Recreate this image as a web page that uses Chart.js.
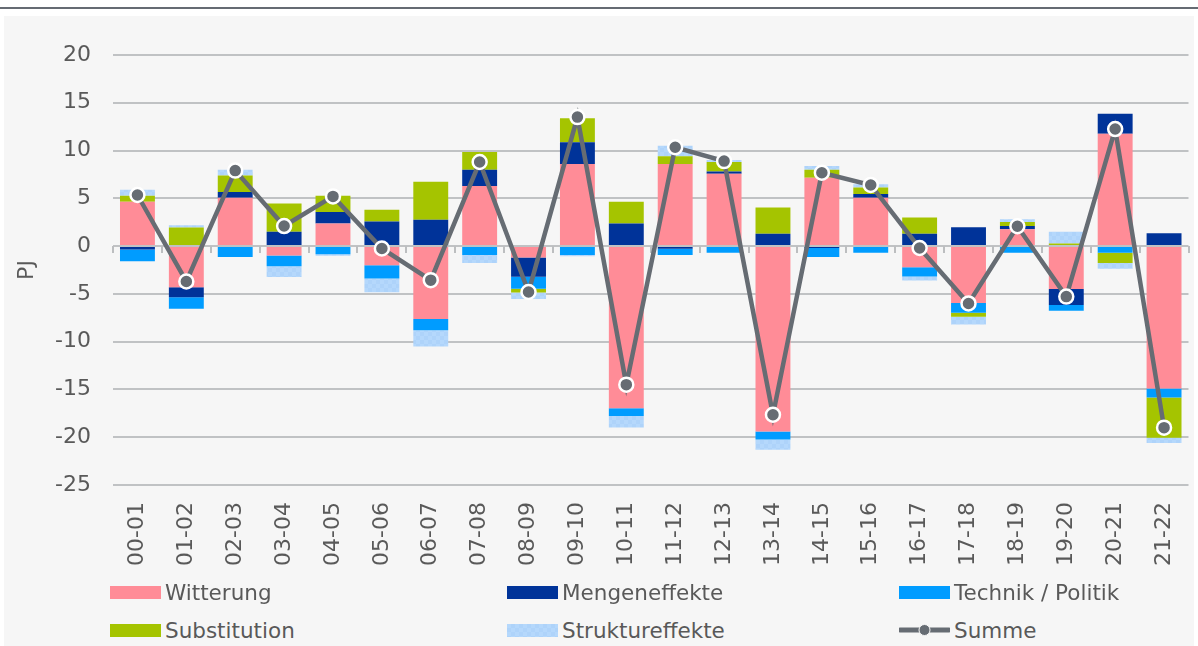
<!DOCTYPE html>
<html>
<head>
<meta charset="utf-8">
<script src="https://cdn.jsdelivr.net/npm/chart.js@4.4.1/dist/chart.umd.min.js"></script>
<style>
  body { margin: 0; background: #fff; width: 1198px; height: 646px; overflow: hidden; position: relative; font-family: "DejaVu Sans", sans-serif; }
  #topLine { position: absolute; left: 0; top: 7px; width: 1198px; height: 2px; background: #656b73; }
  #panel { position: absolute; left: 4px; top: 16px; width: 1190px; height: 630px; background: #f6f6f6; }
  #chartBox { position: absolute; left: 0; top: 0; }
  .item { position: absolute; display: flex; align-items: center; height: 30px; font-size: 21.5px; color: #595959; white-space: nowrap; }
  .sw { display: inline-block; width: 51px; height: 13px; margin-right: 4px; }
</style>
</head>
<body>
<div id="topLine"></div>
<div id="panel"></div>
<div id="chartBox"><canvas id="chart" width="1198" height="580"></canvas></div>
<div id="legend"></div>
<script>
// Zeitraeume
const labels = ["00-01","01-02","02-03","03-04","04-05","05-06","06-07","07-08","08-09","09-10","10-11",
                "11-12","12-13","13-14","14-15","15-16","16-17","17-18","18-19","19-20","20-21","21-22"];

// Komponenten in PJ
const witterung    = [4.65,-4.3,5.07,-0.99,2.36,-2.0,-7.64,6.3,-1.2,8.59,-16.97,8.59,7.57,-19.4,7.15,5.07,-2.22,-5.95,1.76,-4.5,11.76,-14.9];
const mengen       = [-0.35,-1.05,0.6,1.51,1.2,2.57,2.75,1.69,-2.0,2.29,2.36,-0.28,0.25,1.3,-0.2,0.39,1.3,1.97,0.35,-1.66,2.08,1.34];
const technik      = [-1.23,-1.2,-1.13,-1.12,-0.85,-1.4,-1.16,-0.92,-1.27,-0.92,-0.81,-0.64,-0.7,-0.85,-0.93,-0.7,-0.95,-1.02,-0.7,-0.6,-0.7,-0.95];
const substitution = [0.63,1.94,1.72,2.96,1.72,1.23,3.98,1.87,-0.39,2.5,2.29,0.81,0.98,2.75,0.84,0.67,1.7,-0.42,0.42,0.28,-1.06,-4.2];
const struktur     = [0.63,0.24,0.6,-1.13,-0.15,-1.44,-1.7,-0.84,-0.67,-0.14,-1.2,1.09,0.2,-1.05,0.39,0.35,-0.43,-0.81,0.28,1.23,-0.6,-0.55];
const summe        = [5.35,-3.7,7.9,2.1,5.2,-0.25,-3.56,8.8,-4.8,13.5,-14.5,10.35,8.9,-17.65,7.68,6.4,-0.2,-6.0,2.08,-5.28,12.25,-19.0];

// y-Achse
const yMin = -25, yMax = 20, yStep = 5;

const textColor = "#595959";
const gridColor = "#c0c2c4";

// leicht kariertes Muster fuer Struktureffekte
function checkPattern() {
  const c = document.createElement("canvas");
  c.width = 8; c.height = 8;
  const g = c.getContext("2d");
  g.fillStyle = "#b5d8fc";
  g.fillRect(0, 0, 8, 8);
  g.fillStyle = "#aed3fa";
  g.fillRect(0, 0, 4, 4);
  g.fillRect(4, 4, 4, 4);
  return g.createPattern(c, "repeat");
}

// kleine Striche an der Nulllinie zwischen den Kategorien
const zeroTicks = {
  id: "zeroTicks",
  beforeDatasetsDraw(chart) {
    const { ctx, chartArea, scales } = chart;
    const y0 = scales.y.getPixelForValue(0);
    const step = chartArea.width / labels.length;
    ctx.save();
    ctx.strokeStyle = "#bcbec0";
    ctx.lineWidth = 2;
    ctx.beginPath();
    for (let i = 0; i <= labels.length; i++) {
      const px = Math.round(chartArea.left + i * step);
      ctx.moveTo(px, y0);
      ctx.lineTo(px, y0 + 7);
    }
    ctx.stroke();
    ctx.restore();
  }
};

const barOpts = { type: "bar", stack: "a", order: 1, barPercentage: 0.714, categoryPercentage: 1, borderWidth: 0 };

const series = [
  { label: "Witterung", data: witterung, backgroundColor: "#ff8c97" },
  { label: "Mengeneffekte", data: mengen, backgroundColor: "#003399" },
  { label: "Technik / Politik", data: technik, backgroundColor: "#009cff" },
  { label: "Substitution", data: substitution, backgroundColor: "#a5c400" },
  { label: "Struktureffekte", data: struktur, backgroundColor: checkPattern() }
];

const datasets = series.map(s => Object.assign({}, barOpts, s));
datasets.push({
  type: "line",
  label: "Summe",
  data: summe,
  stack: "sum",
  order: 0,
  borderColor: "#666c73",
  borderWidth: 4.5,
  pointRadius: 7,
  pointBorderWidth: 2.5,
  pointBorderColor: "#ffffff",
  pointBackgroundColor: "#666c73",
  tension: 0
});

new Chart(document.getElementById("chart"), {
  data: { labels: labels, datasets: datasets },
  plugins: [zeroTicks],
  options: {
    responsive: false,
    animation: false,
    devicePixelRatio: 1,
    layout: { padding: { left: 4, top: 55, right: 6, bottom: 0 } },
    plugins: { legend: { display: false }, tooltip: { enabled: false } },
    scales: {
      x: {
        stacked: true,
        grid: { display: false, drawTicks: false },
        border: { display: false },
        ticks: {
          color: textColor, font: { family: "DejaVu Sans", size: 22 },
          minRotation: 90, maxRotation: 90, autoSkip: false, padding: 17
        },
        afterFit(s) { s.height = 95; s.paddingLeft = 0; s.paddingRight = 0; }
      },
      y: {
        stacked: true,
        min: yMin, max: yMax,
        grid: { color: gridColor, lineWidth: 2, drawTicks: false },
        border: { display: false },
        ticks: { stepSize: yStep, color: textColor, font: { family: "DejaVu Sans", size: 22 }, padding: 22 },
        title: { display: true, text: "PJ", color: textColor, font: { family: "DejaVu Sans", size: 22 }, padding: { top: 10, bottom: 0 } },
        afterFit(s) { s.width = 109; s.paddingTop = 0; s.paddingBottom = 0; }
      }
    }
  }
});

// Legende in drei Spalten
const legendCols = [110, 507, 899];
const legendRows = [592, 630];
const legendBox = document.getElementById("legend");
const legendItems = [
  { text: series[0].label, color: "#ff8c97" },
  { text: series[1].label, color: "#003399" },
  { text: series[2].label, color: "#009cff" },
  { text: series[3].label, color: "#a5c400" },
  { text: series[4].label, pattern: true },
  { text: "Summe", line: true }
];
legendItems.forEach((it, i) => {
  const el = document.createElement("div");
  el.className = "item";
  el.style.left = legendCols[i % 3] + "px";
  el.style.top = (legendRows[Math.floor(i / 3)] - 15) + "px";
  let sw;
  if (it.line) {
    sw = '<svg width="51" height="14" style="margin-right:4px"><line x1="1" y1="7" x2="50" y2="7" stroke="#666c73" stroke-width="5" stroke-linecap="round"/><circle cx="25.5" cy="7" r="5.5" fill="#666c73" stroke="#f6f6f6" stroke-width="1"/></svg>';
  } else if (it.pattern) {
    sw = '<span class="sw" style="background-color:#b5d8fc;background-image:repeating-conic-gradient(#aed3fa 0 25%, transparent 0 50%);background-size:8px 8px"></span>';
  } else {
    sw = '<span class="sw" style="background:' + it.color + '"></span>';
  }
  el.innerHTML = sw + '<span>' + it.text + '</span>';
  legendBox.appendChild(el);
});
</script>
</body>
</html>
